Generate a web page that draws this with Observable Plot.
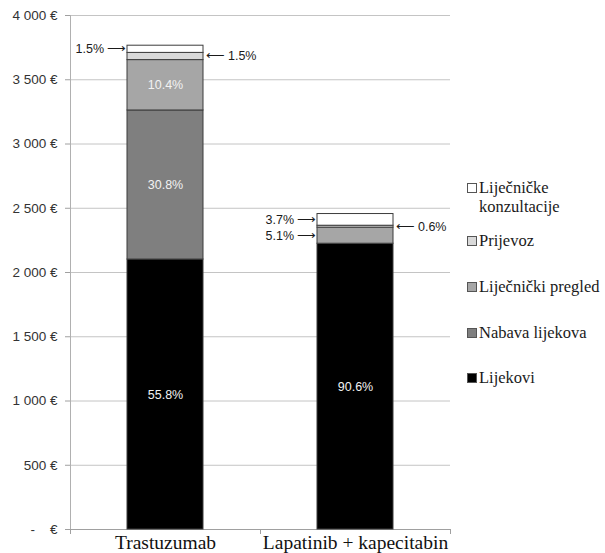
<!DOCTYPE html>
<html>
<head>
<meta charset="utf-8">
<script src="https://cdn.jsdelivr.net/npm/d3@7"></script>
<script src="https://cdn.jsdelivr.net/npm/@observablehq/plot@0.6"></script>
<style>
  body { margin: 0; background: #fff; }
  #wrap { position: relative; width: 605px; height: 553px; }
</style>
</head>
<body>
<div id="wrap"><div id="chart"></div><div id="legend" style="position:absolute; left:467px; top:0; font-family:'Liberation Serif'; font-size:16.5px; color:#1a1a1a;"></div></div>
<script>
const drugs = ["Trastuzumab", "Lapatinib + kapecitabin"];
const categories = ["Lijekovi", "Nabava lijekova", "Liječnički pregled", "Prijevoz", "Liječničke konzultacije"];
const trastuzumabValues = [2101, 1160, 392, 56, 56];
const lapatinibValues = [2224, 0, 125, 15, 91];
const trastuzumabPct = [55.8, 30.8, 10.4, 1.5, 1.5];
const lapatinibPct = [90.6, 0, 5.1, 0.6, 3.7];
const colors = ["#000000", "#7f7f7f", "#a6a6a6", "#d9d9d9", "#ffffff"];
const yTicks = [0, 500, 1000, 1500, 2000, 2500, 3000, 3500, 4000];

const data = [];
categories.forEach((c, i) => {
  data.push({drug: drugs[0], cat: c, value: trastuzumabValues[i], pct: trastuzumabPct[i]});
  data.push({drug: drugs[1], cat: c, value: lapatinibValues[i], pct: lapatinibPct[i]});
});
const rows = data.filter(d => d.value > 0);

const fmtY = d => d === 0 ? "-\u00a0\u00a0\u00a0\u00a0€" : d3.format(",")(d).replace(/,/g, "\u00a0") + "\u00a0€";
const side = d => d.pct >= 10 ? "in" : (d.cat === "Prijevoz" ? "right" : "left");

const chart = Plot.plot({
  width: 605,
  height: 553,
  marginTop: 15,
  marginBottom: 24,
  marginLeft: 70,
  marginRight: 155,
  style: {fontSize: "12px", background: "#fff"},
  x: {domain: drugs, paddingInner: 0.6, paddingOuter: 0.3},
  y: {domain: [0, 4000]},
  color: {domain: categories, range: colors},
  marks: [
    Plot.ruleY(yTicks, {stroke: "#c4c4c4", strokeWidth: 1}),
    Plot.frame({anchor: "left", stroke: "#b0b0b0"}),
    Plot.frame({anchor: "bottom", stroke: "#a0a0a0"}),
    Plot.ruleX(drugs, {x: d => d, dx: -95, insetTop: 514, insetBottom: -5, stroke: "#a0a0a0"}),
    Plot.ruleX(drugs, {x: d => d, dx: 95, insetTop: 514, insetBottom: -5, stroke: "#a0a0a0"}),
    Plot.barY(rows, {x: "drug", y: "value", fill: "cat", order: categories, stroke: "#3c3c3c", strokeWidth: 1}),
    Plot.text(rows, Plot.stackY({x: "drug", y: "value", z: "cat", order: categories,
      text: d => side(d) === "in" ? d.pct.toFixed(1) + "%" : "", fill: "#f2f2f2", fontSize: 12.5,
      fontFamily: "Liberation Sans"})),
    Plot.text(rows, Plot.stackY({x: "drug", y: "value", z: "cat", order: categories,
      text: d => side(d) === "left" ? d.pct.toFixed(1) + "% \u27f6" : "", fill: "#1a1a1a", fontSize: 12.5,
      fontFamily: "Liberation Sans", textAnchor: "end", dx: -39})),
    Plot.text(rows, Plot.stackY({x: "drug", y: "value", z: "cat", order: categories,
      text: d => side(d) === "right" ? "\u27f5 " + d.pct.toFixed(1) + "%" : "", fill: "#1a1a1a", fontSize: 12.5,
      fontFamily: "Liberation Sans", textAnchor: "start", dx: 40})),
    Plot.axisY({ticks: yTicks, tickFormat: fmtY, tickSize: 5, tickPadding: 8, stroke: "#a0a0a0", fill: "#333",
      fontSize: 13.5, fontFamily: "Liberation Sans", label: null}),
    Plot.axisX({tickSize: 0, tickPadding: 6, fontSize: 19.5, fontFamily: "Liberation Serif", fill: "#111", label: null})
  ]
});
document.getElementById("chart").appendChild(chart);

// Legend (top to bottom: reverse of stack order)
const legend = document.getElementById("legend");
const legendTops = {"Liječničke konzultacije": 178, "Prijevoz": 231, "Liječnički pregled": 277, "Nabava lijekova": 323, "Lijekovi": 368};
categories.slice().reverse().forEach(c => {
  const i = categories.indexOf(c);
  const div = document.createElement("div");
  div.style.cssText = "position:absolute; left:0; display:flex; align-items:flex-start; white-space:nowrap; line-height:19px;";
  div.style.top = legendTops[c] + "px";
  const sw = document.createElement("span");
  sw.style.cssText = "width:8px; height:8px; border:1px solid #555; margin-right:2px; margin-top:5px; flex:none;";
  sw.style.background = colors[i];
  const label = document.createElement("span");
  label.innerHTML = c === "Liječničke konzultacije" ? "Liječničke<br>konzultacije" : c;
  div.appendChild(sw);
  div.appendChild(label);
  legend.appendChild(div);
});
</script>
</body>
</html>
